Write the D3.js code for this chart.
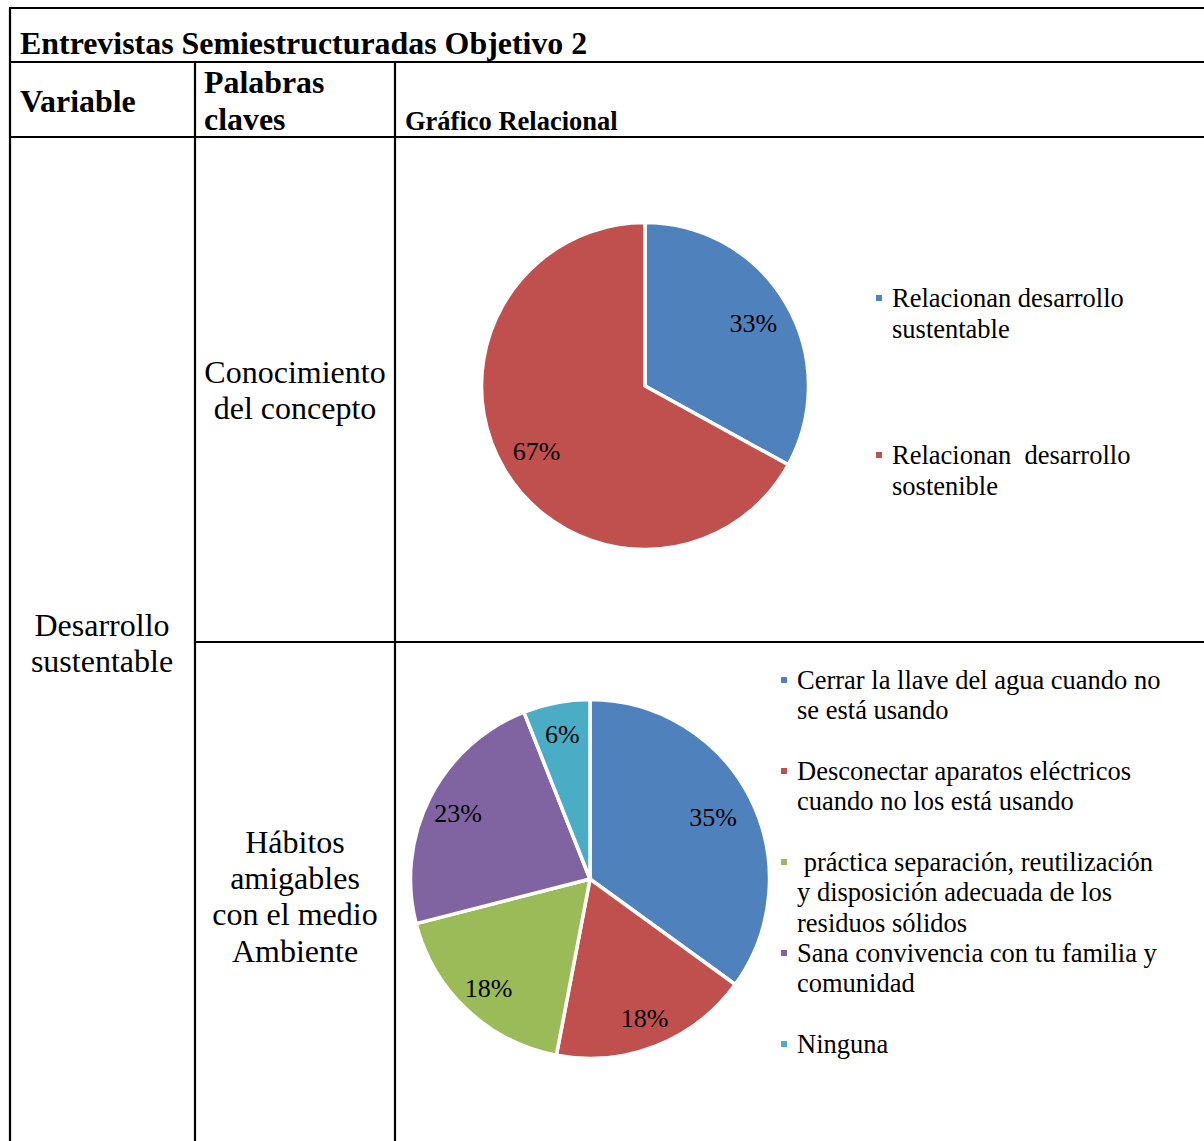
<!DOCTYPE html>
<html><head><meta charset="utf-8">
<script src="https://cdn.jsdelivr.net/npm/d3@7"></script>
<style>
html,body{margin:0;padding:0;background:#fff;}
svg{display:block;}
</style></head>
<body>
<svg id="c" width="1204" height="1141"></svg>
<script>
// ---- data ----
const categories1 = ["Relacionan desarrollo\nsustentable", "Relacionan  desarrollo\nsostenible"];
const values1 = [33, 67];
const categories2 = [
  "Cerrar la llave del agua cuando no\nse está usando",
  "Desconectar aparatos eléctricos\ncuando no los está usando",
  " práctica separación, reutilización\ny disposición adecuada de los\nresiduos sólidos",
  "Sana convivencia con tu familia y\ncomunidad",
  "Ninguna"
];
const values2 = [35, 18, 18, 23, 6];
const palette = ["#4F81BD", "#C0504D", "#9BBB59", "#8064A2", "#4BACC6"];
const titleText = "Entrevistas Semiestructuradas Objetivo 2";
const headerTexts = ["Variable", "Palabras\nclaves", "Gráfico Relacional"];
const variableText = "Desarrollo\nsustentable";
const keywordTexts = ["Conocimiento\ndel concepto", "Hábitos\namigables\ncon el medio\nAmbiente"];

const FONT = '"Liberation Serif", "Times New Roman", Tinos, serif';
const svg = d3.select("#c").style("font-family", FONT);

// ---- table grid ----
const lines = [
  [9, 8, 1204, 8], [9, 62, 1204, 62], [9, 137, 1204, 137],
  [10, 8, 10, 1141], [195, 62, 195, 1141], [395, 62, 395, 1141],
  [195, 642, 1204, 642]
];
svg.append("g").selectAll("line").data(lines).join("line")
  .attr("x1", d => d[0]).attr("y1", d => d[1]).attr("x2", d => d[2]).attr("y2", d => d[3])
  .attr("stroke", "#000").attr("stroke-width", 2.2);

function multi(x, y, str, size, weight, anchor, lh) {
  const t = svg.append("text").attr("x", x).attr("y", y)
    .style("font-family", FONT)
    .attr("font-size", size).attr("font-weight", weight).attr("text-anchor", anchor)
    .attr("fill", "#000");
  str.split("\n").forEach((s, i) => {
    t.append("tspan").attr("x", x).attr("y", y + i * lh).text(s);
  });
  return t;
}

multi(20, 54, titleText, 31.9, "bold", "start", 0);
multi(20, 112, headerTexts[0], 31.9, "bold", "start", 0);
multi(204, 93, headerTexts[1], 31.9, "bold", "start", 36.5);
multi(405, 130, headerTexts[2], 26.5, "bold", "start", 0);
multi(102, 636, variableText, 32, "normal", "middle", 35.5);
multi(295, 383, keywordTexts[0], 32, "normal", "middle", 36);
multi(295, 853, keywordTexts[1], 32, "normal", "middle", 36.2);

// ---- pies ----
function drawPie(cx, cy, r, values, cats, legendX, legendY0, legendStep, lh, markOff) {
  const g = svg.append("g").attr("transform", `translate(${cx},${cy})`);
  const pie = d3.pie().sort(null).value(d => d);
  const arcs = pie(values);
  const arc = d3.arc().innerRadius(0).outerRadius(r);
  const labelR = d => (d.endAngle - d.startAngle < Math.PI * 0.6 ? 0.825 : 0.77) * r;
  g.selectAll("path").data(arcs).join("path")
    .attr("d", arc).attr("fill", (d, i) => palette[i])
    .attr("stroke", "#fff").attr("stroke-width", 3.5).attr("stroke-linejoin", "miter");
  g.selectAll("text").data(arcs).join("text")
    .attr("transform", d => {
      const lr = labelR(d);
      return `translate(${d3.arc().innerRadius(lr).outerRadius(lr).centroid(d)})`;
    })
    .style("font-family", FONT)
    .attr("text-anchor", "middle").attr("dy", "0.38em")
    .attr("font-size", 26).attr("fill", "#000").text(d => d.data + "%");
  // legend
  const lg = svg.append("g");
  cats.forEach((c, i) => {
    const y = legendY0 + i * legendStep;
    lg.append("rect").attr("x", legendX - 16).attr("y", y - markOff).attr("width", 6).attr("height", 6)
      .attr("fill", palette[i]);
    const t = lg.append("text").attr("x", legendX).attr("y", y).attr("font-size", 26.5)
      .style("font-family", FONT).style("white-space", "pre").attr("fill", "#000");
    c.split("\n").forEach((s, j) => {
      t.append("tspan").attr("x", legendX).attr("y", y + j * lh).text(s);
    });
  });
}

drawPie(645, 386, 163.5, values1, categories1, 892, 307, 157, 30.5, 12);
drawPie(590, 879, 179.5, values2, categories2, 797, 689, 91, 30.4, 12);
</script>
</body></html>
